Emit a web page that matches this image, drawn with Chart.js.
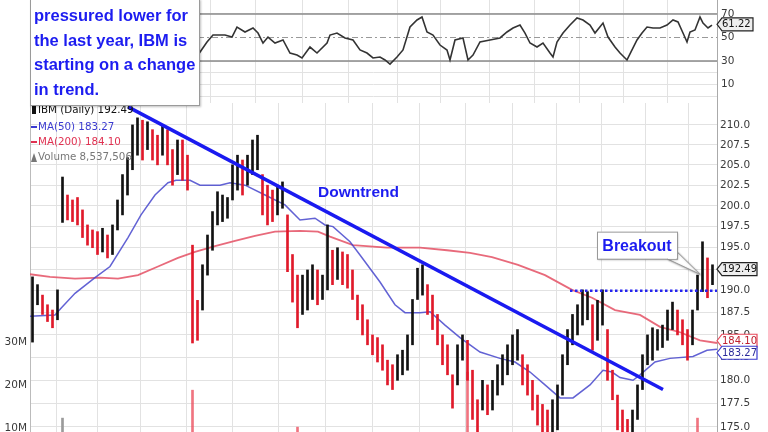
<!DOCTYPE html>
<html>
<head>
<meta charset="utf-8">
<script src="https://cdn.jsdelivr.net/npm/chart.js@4.4.1/dist/chart.umd.min.js"></script>
<style>
  html, body { margin: 0; padding: 0; background: #fff; }
  #wrap { position: relative; width: 768px; height: 432px; overflow: hidden; }
  #rsiChart { position: absolute; left: 0; top: 0; }
  #priceChart { position: absolute; left: 0; top: 103px; }
  #note {
    position: absolute; left: 30px; top: -1px; width: 170px; height: 107px;
    box-sizing: border-box; background: #fff; border: 1px solid #9a9a9a;
    box-shadow: 1px 1px 2px rgba(0,0,0,0.25);
    font: bold 16.5px "Liberation Sans", Arial, sans-serif; color: #1c1cf0;
    line-height: 24.5px; padding: 3px 0 0 3px; white-space: nowrap; z-index: 5;
  }
</style>
</head>
<body>
<div id="wrap">
  <canvas id="rsiChart" width="768" height="103"></canvas>
  <canvas id="priceChart" width="768" height="372"></canvas>
  <div id="note">pressured lower for<br>the last year, IBM is<br>starting on a change<br>in trend.</div>
</div>
<script>
// one bar = about two sessions, x = bar index
var barLow = [184.2, 188.4, 187.3, 186.5, 185.8, 186.7, 198.0, 198.3, 198.1, 197.7,
  196.2, 195.3, 195.0, 194.2, 194.5, 193.8, 194.2, 197.1, 198.9, 201.3,
  204.4, 206.2, 205.6, 206.9, 205.6, 205.0, 206.2, 205.0, 202.5, 203.8,
  203.1, 201.9, 184.1, 184.4, 187.8, 191.8, 194.7, 197.7, 198.1, 198.5,
  200.7, 201.9, 201.3, 202.5, 203.8, 204.4, 198.9, 197.7, 198.1, 198.9,
  199.7, 192.2, 188.7, 185.8, 187.3, 187.8, 189.0, 188.4, 189.0, 190.1,
  190.7, 191.3, 190.7, 190.3, 189.0, 186.7, 185.0, 183.9, 182.8, 182.0,
  181.1, 179.5, 179.0, 180.0, 180.6, 181.1, 183.9, 189.0, 189.5, 187.3,
  185.6, 183.9, 181.7, 180.6, 177.0, 179.5, 182.2, 180.0, 175.8, 173.6,
  176.8, 176.3, 176.8, 178.4, 179.5, 180.6, 181.7, 182.2, 179.5, 178.4,
  176.8, 175.2, 173.6, 173.1, 173.6, 174.7, 178.4, 181.7, 183.9, 185.0,
  186.1, 186.7, 183.3, 184.4, 186.1, 180.0, 177.9, 174.7, 173.6, 173.1,
  173.6, 175.8, 179.0, 181.7, 182.2, 183.3, 183.6, 184.4, 185.6, 185.0,
  183.9, 182.2, 183.9, 187.8, 189.9, 189.2, 190.7];
var barHigh = [191.6, 190.7, 189.5, 188.4, 187.8, 190.1, 203.5, 201.3, 200.7, 201.0,
  199.5, 197.7, 197.1, 196.9, 197.3, 196.5, 197.7, 200.7, 203.8, 205.9,
  210.0, 210.9, 210.6, 210.4, 209.4, 208.7, 210.0, 209.4, 206.9, 208.1,
  208.1, 206.2, 195.3, 188.9, 193.0, 196.5, 199.3, 201.7, 201.3, 201.0,
  205.0, 206.2, 205.6, 206.2, 208.1, 208.7, 203.8, 202.5, 201.9, 202.5,
  202.9, 198.9, 194.2, 191.8, 191.8, 192.4, 193.0, 192.4, 191.8, 197.7,
  194.7, 195.0, 194.5, 194.2, 192.4, 189.5, 188.4, 186.7, 185.0, 184.7,
  183.9, 182.2, 181.7, 182.8, 183.3, 185.0, 189.0, 192.6, 193.0, 190.7,
  189.5, 187.3, 185.0, 183.9, 180.6, 183.9, 185.0, 184.4, 181.1, 177.9,
  180.0, 179.5, 180.0, 181.7, 182.8, 183.9, 185.0, 185.6, 182.8, 181.7,
  180.0, 178.4, 177.4, 176.8, 177.9, 179.5, 182.8, 185.6, 187.3, 188.4,
  190.1, 189.9, 188.4, 188.9, 190.1, 185.6, 181.1, 178.4, 176.8, 175.8,
  176.8, 179.5, 182.8, 185.0, 185.8, 185.6, 186.1, 187.8, 188.7, 187.8,
  186.7, 185.6, 187.8, 191.8, 195.7, 193.8, 193.0];

// only the volume bars tall enough to show above the crop
var volumeAt = [6, 32, 53, 87, 133];
var volumeVal = [12.3e6, 18.8e6, 10.2e6, 23.0e6, 12.3e6];
var volumeUp = [true, false, false, false, false];

var ma50At = [0, 5, 6.2, 9, 13, 16, 19.6, 22.2, 25, 27.6, 29.2, 32, 34, 38, 40, 43, 47, 51, 54, 57,
  59, 60.6, 64, 66, 70, 73, 75, 78, 80, 83, 86, 88, 90, 94, 97, 100, 103, 106, 108.6, 112,
  114.6, 116.4, 118, 120.6, 122, 125, 128, 132.6, 135.4, 137.4];
var ma50 = [187.1, 187.25, 188.0, 189.7, 191.5, 192.8, 196.2, 198.9, 201.3, 202.8, 203.1, 203.1, 202.5, 202.5, 202.8, 202.5, 201.3, 200.1, 198.3, 198.5,
  197.7, 197.5, 195.7, 194.15, 191.0, 188.4, 187.5, 187.5, 187.6, 186.1, 184.7, 183.9, 183.1, 182.4, 182.0, 180.9, 179.5, 178.1, 178.1, 179.5,
  181.1, 180.9, 180.3, 180.0, 180.6, 182.0, 182.4, 182.6, 183.3, 183.4];

var ma200At = [0, 4, 9, 14, 17.6, 21.6, 25.6, 29.6, 33, 37, 41, 45, 49, 54, 57.6, 60, 64.6, 71.4, 78, 83.4,
  88, 92.4, 97.6, 103, 108.4, 112.4, 117, 122, 126, 130, 134, 137.4];
var ma200 = [191.9, 191.6, 191.4, 191.5, 191.4, 191.8, 192.8, 193.8, 194.5, 195.2, 195.8, 196.4, 196.9, 197.0, 196.9, 196.3, 195.3, 195.0, 195.0, 194.7,
  194.4, 193.9, 193.0, 191.8, 190.1, 189.2, 187.8, 187.25, 185.9, 185.3, 184.4, 184.1];

var rsiAt = [33.6, 35.4, 36.6, 39, 40.4, 41.4, 43, 44.6, 45.6, 46.6,
  47.6, 49, 50.6, 52, 53.4, 54.4, 56, 57.4, 59.4, 60,
  61.4, 63, 64.6, 66, 67.4, 68.6, 70, 71, 72, 73.4,
  74.6, 76, 77.4, 78.4, 79.4, 80.6, 82, 83.4, 84, 85,
  86.6, 87.6, 88.6, 90, 92, 94, 95.4, 96.6, 98, 99,
  100, 101.4, 102.6, 104, 104.6, 105.4, 106.6, 108, 109.4, 110.6,
  112, 113, 114.6, 115.6, 117, 118, 119.4, 120.4, 121.4, 122.4,
  123.4, 124.6, 126, 127.4, 128.6, 129.6, 130.6, 131.4, 132, 133,
  134, 134.6, 135.6, 136.4];
var rsi = [35.1, 46.2, 52.1, 52.1, 50.4, 58.9, 54.7, 58.1, 53.8, 45.3,
  50.4, 45.3, 47.9, 36.8, 35.1, 32.6, 41.9, 36.8, 45.3, 52.1,
  53.8, 49.6, 47.9, 39.4, 36.8, 32.6, 33.4, 30.9, 27.4, 33.4,
  39.4, 58.9, 64.9, 67.4, 54.7, 52.1, 43.6, 39.4, 30.9, 47.9,
  49.6, 30.9, 35.1, 46.2, 47.9, 49.6, 54.7, 58.1, 60.6, 53.8,
  45.3, 41.9, 45.3, 36.8, 33.4, 46.2, 53.8, 60.6, 66.6, 64.9,
  60.6, 53.8, 62.3, 50.4, 41.9, 36.8, 30.9, 39.4, 47.9, 53.8,
  58.9, 58.1, 58.1, 60.6, 64.9, 63.2, 53.8, 46.2, 54.7, 56.4,
  67.4, 62.3, 58.1, 60.6];

var trendAt = [19.6, 126.6];
var trendVal = [212.3, 179.0];
var breakoutLevel = 190.0;
var breakoutFrom = 108;

var lastClose = 192.49, lastMa50 = 183.27, lastMa200 = 184.10, lastVolume = '8,537,506', lastRsi = 61.22;

var monthLines = [9.4, 17.6, 26.6, 36, 45, 54.4, 63.6, 73.4, 82.2, 92, 100.8, 109.8, 118.8, 127.4];
var priceTicks = [175, 177.5, 180, 182.5, 185, 187.5, 190, 192.5, 195, 197.5, 200, 202.5, 205, 207.5, 210];
var volumeTicks = [10e6, 20e6, 30e6];
var rsiTicks = [0, 10, 20, 30, 50, 70];
var rsiLevels = [70, 50, 30];

var span = 137.4;
var blue = '#1c1cf0';

Chart.defaults.font.family = '"DejaVu Sans", sans-serif';
Chart.defaults.font.size = 10.5;
Chart.defaults.color = '#3a3a3a';

function noPad(s) {
  s.paddingTop = 0; s.paddingBottom = 0; s.paddingLeft = 0; s.paddingRight = 0;
}

function xAxis() {
  return {
    type: 'linear', min: 0, max: span, offset: false,
    grid: { color: '#e2e2e2', drawTicks: false },
    border: { color: '#aaa' },
    ticks: { display: false, autoSkip: false },
    afterBuildTicks: function(s) { s.ticks = monthLines.map(function(v) { return { value: v }; }); },
    afterFit: function(s) { s.height = 0; noPad(s); }
  };
}

function tag(ctx, x0, yc, w, text, edge, fill, ink) {
  ctx.beginPath();
  ctx.moveTo(x0, yc);
  ctx.lineTo(x0 + 5, yc - 6.5);
  ctx.lineTo(x0 + w, yc - 6.5);
  ctx.lineTo(x0 + w, yc + 6.5);
  ctx.lineTo(x0 + 5, yc + 6.5);
  ctx.closePath();
  ctx.fillStyle = fill;
  ctx.fill();
  ctx.lineWidth = 1.2;
  ctx.strokeStyle = edge;
  ctx.stroke();
  ctx.fillStyle = ink;
  ctx.font = '10px "DejaVu Sans", sans-serif';
  ctx.textAlign = 'left';
  ctx.textBaseline = 'middle';
  ctx.fillText(text, x0 + 5, yc + 0.5);
}

// ---- RSI panel ----
var rsiNotes = {
  id: 'rsiNotes',
  afterDraw: function(chart) {
    var ctx = chart.ctx;
    var y = chart.scales.y.getPixelForValue(lastRsi);
    ctx.save();
    tag(ctx, chart.chartArea.right, y, 36, lastRsi.toFixed(2), '#222', '#eee', '#111');
    ctx.restore();
  }
};

var rsiSets = [{
  data: rsiAt.map(function(x, i) { return { x: x, y: rsi[i] }; }),
  borderColor: '#333', borderWidth: 1.6, pointRadius: 0, order: 0
}];
rsiLevels.forEach(function(lv) {
  rsiSets.push({
    data: [{ x: 0, y: lv }, { x: span, y: lv }],
    borderColor: lv === 50 ? '#999' : '#8a8a8a',
    borderWidth: lv === 50 ? 1 : 1.3,
    borderDash: lv === 50 ? [6, 3, 2, 3] : [],
    pointRadius: 0, order: 1
  });
});

new Chart(document.getElementById('rsiChart'), {
  type: 'line',
  data: { datasets: rsiSets },
  options: {
    responsive: false, animation: false, devicePixelRatio: 1,
    layout: { padding: { left: 30, right: 0, top: 0, bottom: 0 } },
    plugins: { legend: { display: false }, tooltip: { enabled: false } },
    scales: {
      x: xAxis(),
      y: {
        position: 'right', min: -5.7, max: 81.9,
        grid: {
          drawTicks: false,
          color: function(c) { return c.tick && c.tick.value === 50 ? 'rgba(0,0,0,0)' : '#e2e2e2'; }
        },
        border: { color: '#aaa' },
        ticks: {
          padding: 4, autoSkip: false,
          callback: function(v) { return (v === 0 || v === 20) ? '' : String(v); }
        },
        afterBuildTicks: function(s) { s.ticks = rsiTicks.map(function(v) { return { value: v }; }); },
        afterFit: function(s) { s.width = 51; noPad(s); }
      }
    }
  },
  plugins: [rsiNotes]
});

// ---- price panel ----
var barColors = barHigh.map(function(h, i) {
  if (i === 0) return '#111';
  var mid = (h + barLow[i]) / 2, prev = (barHigh[i - 1] + barLow[i - 1]) / 2;
  return mid >= prev ? '#111' : '#e0192a';
});

var priceNotes = {
  id: 'priceNotes',
  afterDraw: function(chart) {
    var ctx = chart.ctx, xs = chart.scales.x, ys = chart.scales.y, area = chart.chartArea;
    ctx.save();

    // legend, top left
    ctx.font = '10.3px "DejaVu Sans", sans-serif';
    ctx.textBaseline = 'middle';
    ctx.textAlign = 'left';
    var lx = area.left + 8;
    ctx.fillStyle = '#111';
    ctx.fillRect(area.left + 2, 3, 4, 8);
    ctx.fillText('IBM (Daily) ' + lastClose.toFixed(2), lx, 7);
    ctx.fillStyle = '#3b3bd0';
    ctx.fillRect(area.left + 1, 23, 6, 2);
    ctx.fillText('MA(50) ' + lastMa50.toFixed(2), lx, 24);
    ctx.fillStyle = '#e03050';
    ctx.fillRect(area.left + 1, 38, 6, 2);
    ctx.fillText('MA(200) ' + lastMa200.toFixed(2), lx, 39);
    ctx.fillStyle = '#777';
    ctx.beginPath();
    ctx.moveTo(area.left + 1, 59); ctx.lineTo(area.left + 4, 50); ctx.lineTo(area.left + 7, 59);
    ctx.closePath(); ctx.fill();
    ctx.fillText('Volume ' + lastVolume, lx, 54);

    // Downtrend label
    ctx.font = 'bold 15.5px "Liberation Sans", Arial, sans-serif';
    ctx.fillStyle = blue;
    ctx.fillText('Downtrend', xs.getPixelForValue(57.6), ys.getPixelForValue(201.6));

    // Breakout callout
    var bl = xs.getPixelForValue(113.4), br = xs.getPixelForValue(129.4);
    var bt = ys.getPixelForValue(196.9), bb = ys.getPixelForValue(193.7);
    var tx = xs.getPixelForValue(134), ty = ys.getPixelForValue(191.9);
    ctx.shadowColor = 'rgba(0,0,0,0.3)';
    ctx.shadowOffsetX = 1; ctx.shadowOffsetY = 1; ctx.shadowBlur = 2;
    ctx.beginPath();
    ctx.moveTo(br - 10, bb); ctx.lineTo(tx, ty); ctx.lineTo(br, bb - 7);
    ctx.closePath();
    ctx.fillStyle = '#fff'; ctx.fill();
    ctx.strokeStyle = '#999'; ctx.lineWidth = 1; ctx.stroke();
    ctx.fillRect(bl, bt, br - bl, bb - bt);
    ctx.shadowColor = 'rgba(0,0,0,0)';
    ctx.strokeRect(bl + 0.5, bt + 0.5, br - bl, bb - bt);
    ctx.fillStyle = '#fff';
    ctx.fillRect(br - 9, bb - 6, 8, 6);
    ctx.font = 'bold 16px "Liberation Sans", Arial, sans-serif';
    ctx.fillStyle = blue;
    ctx.textAlign = 'center';
    ctx.fillText('Breakout', (bl + br) / 2, (bt + bb) / 2 + 1);

    // value tags on the right axis
    var yRed = ys.getPixelForValue(lastMa200), yBlue = ys.getPixelForValue(lastMa50);
    if (yBlue - yRed < 12) { var mid = (yRed + yBlue) / 2; yRed = mid - 6; yBlue = mid + 6; }
    tag(ctx, area.right, ys.getPixelForValue(lastClose), 40, lastClose.toFixed(2), '#222', '#eee', '#111');
    tag(ctx, area.right, yRed, 40, lastMa200.toFixed(2), '#e8485a', '#fff', '#c02030');
    tag(ctx, area.right, yBlue, 40, lastMa50.toFixed(2), '#3b3bd0', '#fff', '#2a2a9a');
    ctx.restore();
  }
};

new Chart(document.getElementById('priceChart'), {
  type: 'bar',
  data: {
    datasets: [
      {
        type: 'line', data: trendAt.map(function(x, i) { return { x: x, y: trendVal[i] }; }),
        borderColor: '#1a1af0', borderWidth: 3.5, pointRadius: 0, yAxisID: 'y', order: 0
      },
      {
        type: 'line', data: [{ x: breakoutFrom, y: breakoutLevel }, { x: span, y: breakoutLevel }],
        borderColor: '#2424f0', borderWidth: 2.5, borderDash: [2.5, 2.5], pointRadius: 0, yAxisID: 'y', order: 1
      },
      {
        data: barLow.map(function(lo, i) { return { x: i + 0.5, y: [lo, barHigh[i]] }; }),
        backgroundColor: barColors, barThickness: 2, grouped: false, yAxisID: 'y', order: 2
      },
      {
        type: 'line', data: ma50At.map(function(x, i) { return { x: x, y: ma50[i] }; }),
        borderColor: 'rgba(70,70,205,0.85)', borderWidth: 1.5, pointRadius: 0, yAxisID: 'y', order: 3
      },
      {
        type: 'line', data: ma200At.map(function(x, i) { return { x: x, y: ma200[i] }; }),
        borderColor: 'rgba(228,80,100,0.85)', borderWidth: 1.8, pointRadius: 0, yAxisID: 'y', order: 4
      },
      {
        data: volumeAt.map(function(i, k) { return { x: i + 0.5, y: volumeVal[k] }; }),
        backgroundColor: volumeUp.map(function(u) { return u ? '#9a9a9a' : 'rgba(235,70,85,0.75)'; }),
        barThickness: 2, grouped: false, yAxisID: 'y1', order: 5
      }
    ]
  },
  options: {
    responsive: false, animation: false, devicePixelRatio: 1,
    layout: { padding: 0 },
    plugins: { legend: { display: false }, tooltip: { enabled: false } },
    scales: {
      x: xAxis(),
      y: {
        type: 'logarithmic', position: 'right', min: 170.0, max: 212.8,
        grid: { color: '#e2e2e2', drawTicks: false },
        border: { color: '#aaa' },
        ticks: { padding: 3, autoSkip: false, callback: function(v) { return Number(v).toFixed(1); } },
        afterBuildTicks: function(s) { s.ticks = priceTicks.map(function(v) { return { value: v }; }); },
        afterFit: function(s) { s.width = 51; noPad(s); }
      },
      y1: {
        type: 'linear', position: 'left', min: -0.93e6, max: 85.6e6,
        grid: { display: false, drawTicks: false },
        border: { color: '#bbb' },
        ticks: { padding: 3, autoSkip: false, callback: function(v) { return (v / 1e6) + 'M'; } },
        afterBuildTicks: function(s) { s.ticks = volumeTicks.map(function(v) { return { value: v }; }); },
        afterFit: function(s) { s.width = 30; noPad(s); }
      }
    }
  },
  plugins: [priceNotes]
});
</script>
</body>
</html>
